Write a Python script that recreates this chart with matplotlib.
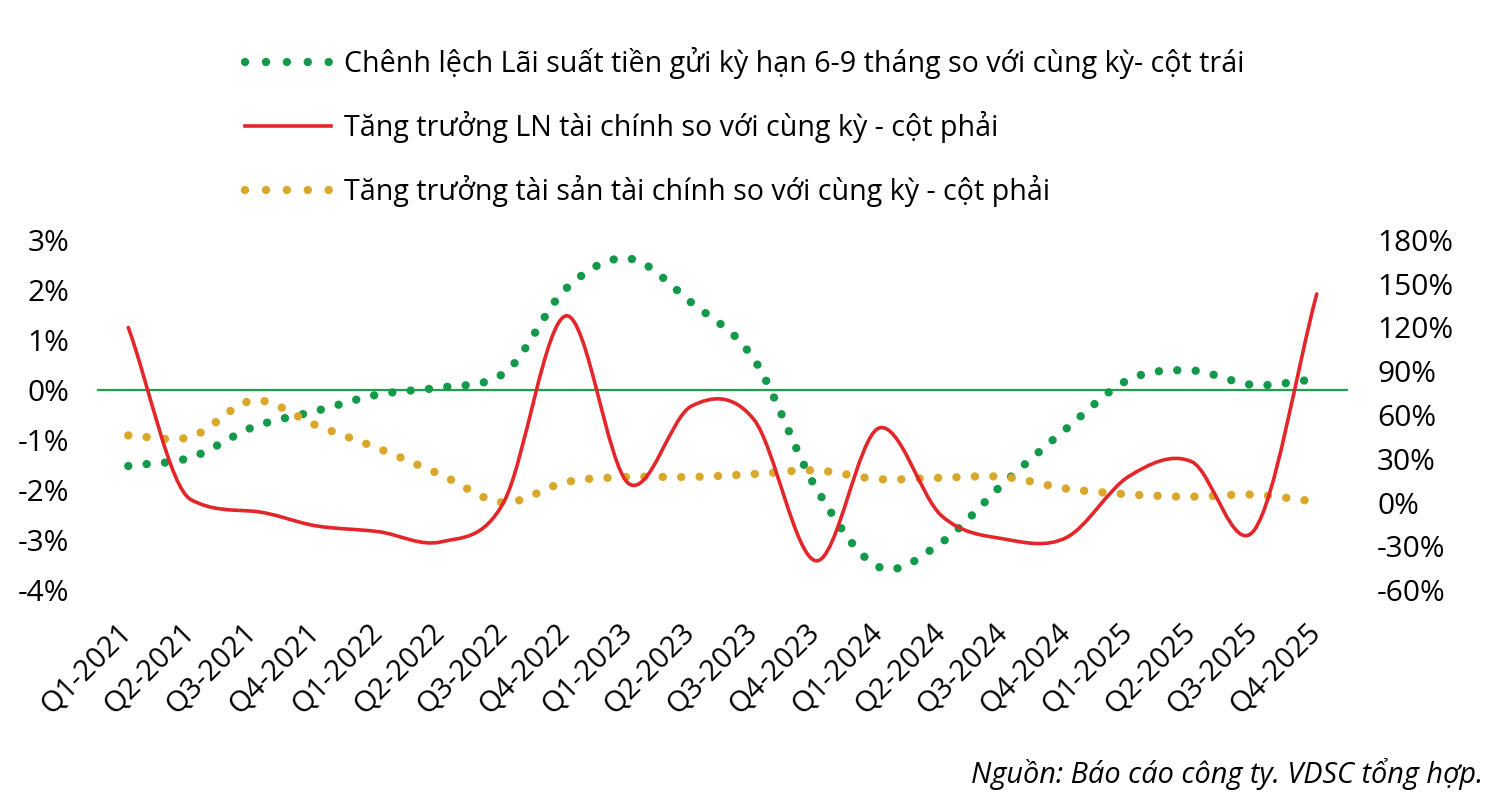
import numpy as np
import matplotlib
matplotlib.use("Agg")
import matplotlib.pyplot as plt
import matplotlib.transforms as mtransforms
from matplotlib.path import Path
from matplotlib.patches import PathPatch
from matplotlib.lines import Line2D
from matplotlib.ticker import FuncFormatter

plt.rcParams['font.family'] = ['Open Sans', 'DejaVu Sans']

# ---------------- data ----------------
quarters = ["Q1-2021", "Q2-2021", "Q3-2021", "Q4-2021",
            "Q1-2022", "Q2-2022", "Q3-2022", "Q4-2022",
            "Q1-2023", "Q2-2023", "Q3-2023", "Q4-2023",
            "Q1-2024", "Q2-2024", "Q3-2024", "Q4-2024",
            "Q1-2025", "Q2-2025", "Q3-2025", "Q4-2025"]

# left axis (%): deposit-rate spread yoy
rate_spread = [-1.52, -1.35, -0.74, -0.42, -0.09, 0.05, 0.33, 2.03, 2.63, 1.75,
               0.62, -1.97, -3.54, -3.05, -1.86, -0.77, 0.21, 0.39, 0.10, 0.22]
# right axis (%): financial profit growth yoy
profit_growth = [120, 2, -6, -16, -20, -27, 0, 128, 13, 66,
                 57, -40, 51, -9, -25, -24, 18, 28, -19, 143]
# right axis (%): financial asset growth yoy
asset_growth = [46, 45, 70, 53, 37, 19, 0, 14, 17.5, 17.5,
                19.5, 22, 16, 17, 17.5, 9.5, 5.6, 4, 5.4, 0.5]

left_ticks = [3, 2, 1, 0, -1, -2, -3, -4]
right_ticks = [180, 150, 120, 90, 60, 30, 0, -30, -60]

legend_labels = ["Chênh lệch Lãi suất tiền gửi kỳ hạn 6-9 tháng so với cùng kỳ- cột trái",
                 "Tăng trưởng LN tài chính so với cùng kỳ - cột phải",
                 "Tăng trưởng tài sản tài chính so với cùng kỳ - cột phải"]
source_text = "Nguồn: Báo cáo công ty. VDSC tổng hợp."

GREEN = "#13994a"
RED = "#e3262a"
YELLOW = "#d9a72a"
ZERO_GREEN = "#1fa04c"


def smooth_path(xs, ys):
    """Cubic Bezier path through the points (Catmull-Rom tangents,
    limited to reduce overshoot on monotone stretches)."""
    xs = np.asarray(xs, float)
    ys = np.asarray(ys, float)
    n = len(xs)
    m = np.zeros(n)
    m[0] = ys[1] - ys[0]
    m[-1] = ys[-1] - ys[-2]
    for i in range(1, n - 1):
        m[i] = (ys[i + 1] - ys[i - 1]) / 2.0
    d = np.diff(ys)
    for i in range(n - 1):
        if d[i] == 0:
            continue
        a = m[i] / d[i]
        b = m[i + 1] / d[i]
        if a > 0 and b > 0 and a * a + b * b > 9:
            t = 3.0 / np.sqrt(a * a + b * b)
            m[i] = t * a * d[i]
            m[i + 1] = t * b * d[i]
    verts = [(xs[0], ys[0])]
    codes = [Path.MOVETO]
    for i in range(n - 1):
        h = xs[i + 1] - xs[i]
        verts += [(xs[i] + h / 3, ys[i] + m[i] / 3),
                  (xs[i + 1] - h / 3, ys[i + 1] - m[i + 1] / 3),
                  (xs[i + 1], ys[i + 1])]
        codes += [Path.CURVE4] * 3
    return Path(verts, codes)


W, H = 1497, 808
fig = plt.figure(figsize=(W / 100, H / 100), dpi=100)
ax_l, ax_r, ax_t, ax_b = 97, 1348, 240, 590
ax = fig.add_axes([ax_l / W, 1 - ax_b / H, (ax_r - ax_l) / W, (ax_b - ax_t) / H])
ax2 = ax.twinx()

x = np.arange(len(quarters))

ax.axhline(0, color=ZERO_GREEN, lw=1.6, zorder=1)

DOT_LW = 6.0
dot_style = (0, (0.01, 2.2))
ax.add_patch(PathPatch(smooth_path(x, rate_spread), fill=False, edgecolor=GREEN,
                       lw=DOT_LW, linestyle=dot_style, capstyle='round', zorder=3))
ax2.add_patch(PathPatch(smooth_path(x, asset_growth), fill=False, edgecolor=YELLOW,
                        lw=DOT_LW, linestyle=dot_style, capstyle='round', zorder=2))
ax2.add_patch(PathPatch(smooth_path(x, profit_growth), fill=False, edgecolor=RED,
                        lw=2.6, capstyle='round', zorder=4))

ax.set_xlim(-0.5, len(quarters) - 0.5)
ax.set_ylim(-4, 3)
ax2.set_ylim(-60, 180)
ax.set_yticks(left_ticks)
ax2.set_yticks(right_ticks)
ax.yaxis.set_major_formatter(FuncFormatter(lambda v, p: f"{v:.0f}%"))
ax2.yaxis.set_major_formatter(FuncFormatter(lambda v, p: f"{v:.0f}%"))

ax.set_xticks(x)
ax.set_xticklabels(quarters, rotation=45, ha='right', va='top', rotation_mode='anchor')

for a in (ax, ax2):
    for s in a.spines.values():
        s.set_visible(False)
    a.tick_params(length=0)
    a.patch.set_visible(False)

ax.tick_params(axis='y', labelsize=21.5, pad=20)
ax2.tick_params(axis='y', labelsize=21.5, pad=21)
ax.tick_params(axis='x', labelsize=21, pad=17)

offset = mtransforms.ScaledTranslation(-11 / 100, -4 / 100, fig.dpi_scale_trans)
for lab in ax.get_xticklabels():
    lab.set_transform(lab.get_transform() + offset)

handles = [Line2D([], [], color=GREEN, lw=DOT_LW, linestyle=(0, (0.01, 2.5)),
                  dash_capstyle='round'),
           Line2D([], [], color=RED, lw=2.6),
           Line2D([], [], color=YELLOW, lw=DOT_LW, linestyle=(0, (0.01, 2.5)),
                  dash_capstyle='round')]
fig.legend(handles, legend_labels, loc='upper left',
           bbox_to_anchor=(245 / W, 1 - 47 / H), frameon=False,
           fontsize=20.6, handlelength=3.0, handletextpad=0.45,
           labelspacing=1.12, borderpad=0, borderaxespad=0)

fig.text(1483 / W, 1 - 783 / H, source_text, ha='right', va='baseline',
         fontsize=20.8, style='italic')

fig.savefig("out.png", dpi=100)
